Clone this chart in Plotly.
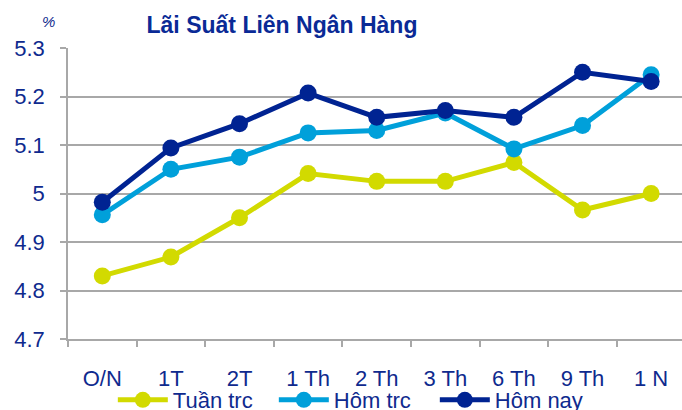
import plotly.graph_objects as go

categories = ["O/N", "1T", "2T", "1 Th", "2 Th", "3 Th", "6 Th", "9 Th", "1 N"]
tuan_trc = [4.830, 4.869, 4.950, 5.041, 5.025, 5.025, 5.064, 4.966, 5.000]
hom_trc = [4.956, 5.050, 5.075, 5.125, 5.130, 5.166, 5.092, 5.140, 5.245]
hom_nay = [4.982, 5.094, 5.144, 5.207, 5.157, 5.171, 5.157, 5.250, 5.231]
series_names = ["Tuần trc", "Hôm trc", "Hôm nay"]
y_tickvals = [4.7, 4.8, 4.9, 5.0, 5.1, 5.2, 5.3]
y_ticktext = ["4.7", "4.8", "4.9", "5", "5.1", "5.2", "5.3"]

colors = ["#D2DA00", "#00A0DA", "#002392"]
text_color = "#0F2A8E"
grid_color = "#A8A8A8"
FONT = "Liberation Sans, Arial, sans-serif"

fig = go.Figure()
for name, vals, col in zip(series_names, [tuan_trc, hom_trc, hom_nay], colors):
    fig.add_trace(go.Scatter(
        x=categories, y=vals, name=name, mode="lines+markers",
        line=dict(color=col, width=5),
        marker=dict(color=col, size=17),
    ))

fig.update_layout(
    width=682, height=410,
    margin=dict(l=68, r=0, t=48, b=71, autoexpand=False),
    paper_bgcolor="white", plot_bgcolor="white",
    font=dict(family=FONT, color=text_color, size=22),
    title=dict(
        text="<b>Lãi Suất Liên Ngân Hàng</b>",
        font=dict(family=FONT, size=23, color="#0A2A96"),
        x=282 / 682, xref="container", xanchor="center",
        y=1 - 25 / 410, yref="container", yanchor="middle",
    ),
    showlegend=True,
    legend=dict(
        orientation="h",
        x=0.073, xanchor="left",
        y=10 / 410, yref="container", yanchor="middle",
        font=dict(family=FONT, size=22, color=text_color),
        entrywidth=96, entrywidthmode="pixels",
        itemwidth=50,
        bgcolor="rgba(0,0,0,0)",
    ),
    xaxis=dict(
        type="category", range=[-0.5, 8.45],
        showgrid=False, showline=True, linecolor=grid_color, linewidth=1.5,
        ticks="outside", tickson="boundaries", ticklen=6, tickcolor=grid_color, tickwidth=1.5,
        tickfont=dict(family=FONT, size=22, color=text_color),
        ticklabelstandoff=19,
        fixedrange=True,
    ),
    yaxis=dict(
        range=[4.7, 5.3], tickvals=y_tickvals, ticktext=y_ticktext,
        showgrid=True, gridcolor=grid_color, gridwidth=1.5,
        showline=True, linecolor=grid_color, linewidth=1.5,
        ticks="outside", ticklen=6, tickcolor=grid_color, tickwidth=1.5,
        tickfont=dict(family=FONT, size=22, color=text_color),
        ticklabelstandoff=11,
        zeroline=False,
        fixedrange=True,
    ),
    annotations=[dict(
        text="<i>%</i>", x=(48 - 68) / 614, y=(339.3 - 22) / 291,
        xref="paper", yref="paper", xanchor="center", yanchor="middle",
        showarrow=False, font=dict(family=FONT, size=15, color=text_color),
    )],
)

fig.write_html(
    "out.html",
    config={"displayModeBar": False},
    post_script="document.body.style.margin='0';document.body.style.overflow='hidden';",
)
